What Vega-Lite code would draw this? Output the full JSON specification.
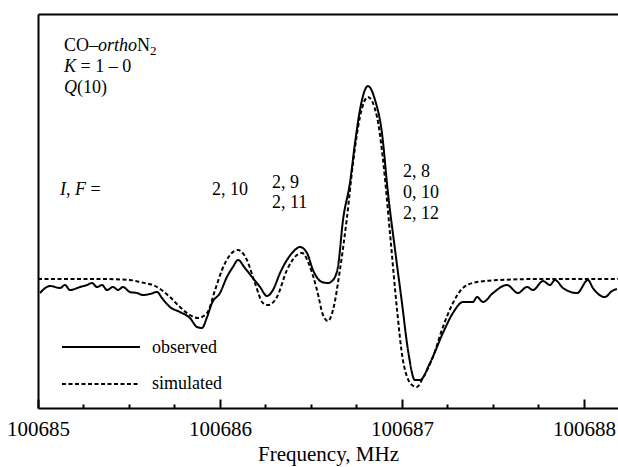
{
  "$schema": "https://vega.github.io/schema/vega-lite/v6.json",
  "width": 580,
  "height": 394,
  "autosize": "none",
  "padding": {"left": 38, "top": 14, "right": 0, "bottom": 59},
  "background": "white",
  "config": {
    "view": {"stroke": null},
    "axis": {"grid": false, "domainColor": "black", "domainWidth": 2, "tickColor": "black", "tickWidth": 2, "labelFont": "Liberation Serif, Times New Roman, DejaVu Serif, serif", "labelFontSize": 21, "labelColor": "black", "titleFont": "Liberation Serif, Times New Roman, DejaVu Serif, serif", "titleFontSize": 21, "titleFontWeight": "normal", "titleColor": "black"},
    "text": {"font": "Liberation Serif, Times New Roman, DejaVu Serif, serif", "fontSize": 18, "color": "black", "align": "left", "baseline": "alphabetic"}
  },
  "datasets": {
    "curves": [
      {"f":100685.011,"v":-0.14,"s":"observed","g":"obs"},{"f":100685.066,"v":-0.07,"s":"observed","g":"obs"},{"f":100685.121,"v":-0.09,"s":"observed","g":"obs"},{"f":100685.148,"v":-0.06,"s":"observed","g":"obs"},{"f":100685.176,"v":-0.11,"s":"observed","g":"obs"},{"f":100685.231,"v":-0.08,"s":"observed","g":"obs"},{"f":100685.269,"v":-0.06,"s":"observed","g":"obs"},{"f":100685.297,"v":-0.04,"s":"observed","g":"obs"},{"f":100685.324,"v":-0.08,"s":"observed","g":"obs"},{"f":100685.352,"v":-0.06,"s":"observed","g":"obs"},{"f":100685.379,"v":-0.11,"s":"observed","g":"obs"},{"f":100685.412,"v":-0.08,"s":"observed","g":"obs"},{"f":100685.440,"v":-0.11,"s":"observed","g":"obs"},{"f":100685.467,"v":-0.08,"s":"observed","g":"obs"},{"f":100685.505,"v":-0.13,"s":"observed","g":"obs"},{"f":100685.544,"v":-0.14,"s":"observed","g":"obs"},{"f":100685.577,"v":-0.16,"s":"observed","g":"obs"},{"f":100685.615,"v":-0.15,"s":"observed","g":"obs"},{"f":100685.654,"v":-0.13,"s":"observed","g":"obs"},{"f":100685.681,"v":-0.19,"s":"observed","g":"obs"},{"f":100685.725,"v":-0.28,"s":"observed","g":"obs"},{"f":100685.780,"v":-0.33,"s":"observed","g":"obs"},{"f":100685.835,"v":-0.39,"s":"observed","g":"obs"},{"f":100685.874,"v":-0.48,"s":"observed","g":"obs"},{"f":100685.901,"v":-0.49,"s":"observed","g":"obs"},{"f":100685.929,"v":-0.38,"s":"observed","g":"obs"},{"f":100685.956,"v":-0.24,"s":"observed","g":"obs"},{"f":100686.000,"v":-0.14,"s":"observed","g":"obs"},{"f":100686.038,"v":0.02,"s":"observed","g":"obs"},{"f":100686.071,"v":0.12,"s":"observed","g":"obs"},{"f":100686.099,"v":0.19,"s":"observed","g":"obs"},{"f":100686.137,"v":0.11,"s":"observed","g":"obs"},{"f":100686.176,"v":0.02,"s":"observed","g":"obs"},{"f":100686.220,"v":-0.08,"s":"observed","g":"obs"},{"f":100686.258,"v":-0.17,"s":"observed","g":"obs"},{"f":100686.291,"v":-0.11,"s":"observed","g":"obs"},{"f":100686.330,"v":0.06,"s":"observed","g":"obs"},{"f":100686.368,"v":0.19,"s":"observed","g":"obs"},{"f":100686.401,"v":0.27,"s":"observed","g":"obs"},{"f":100686.440,"v":0.32,"s":"observed","g":"obs"},{"f":100686.478,"v":0.26,"s":"observed","g":"obs"},{"f":100686.511,"v":0.09,"s":"observed","g":"obs"},{"f":100686.560,"v":-0.03,"s":"observed","g":"obs"},{"f":100686.593,"v":-0.04,"s":"observed","g":"obs"},{"f":100686.621,"v":-0.01,"s":"observed","g":"obs"},{"f":100686.648,"v":0.12,"s":"observed","g":"obs"},{"f":100686.676,"v":0.59,"s":"observed","g":"obs"},{"f":100686.714,"v":0.96,"s":"observed","g":"obs"},{"f":100686.742,"v":1.36,"s":"observed","g":"obs"},{"f":100686.769,"v":1.69,"s":"observed","g":"obs"},{"f":100686.813,"v":1.93,"s":"observed","g":"obs"},{"f":100686.852,"v":1.79,"s":"observed","g":"obs"},{"f":100686.890,"v":1.46,"s":"observed","g":"obs"},{"f":100686.923,"v":0.86,"s":"observed","g":"obs"},{"f":100686.962,"v":0.29,"s":"observed","g":"obs"},{"f":100687.000,"v":-0.24,"s":"observed","g":"obs"},{"f":100687.033,"v":-0.71,"s":"observed","g":"obs"},{"f":100687.071,"v":-1.01,"s":"observed","g":"obs"},{"f":100687.099,"v":-1.01,"s":"observed","g":"obs"},{"f":100687.154,"v":-0.84,"s":"observed","g":"obs"},{"f":100687.225,"v":-0.54,"s":"observed","g":"obs"},{"f":100687.280,"v":-0.34,"s":"observed","g":"obs"},{"f":100687.335,"v":-0.23,"s":"observed","g":"obs"},{"f":100687.390,"v":-0.23,"s":"observed","g":"obs"},{"f":100687.412,"v":-0.18,"s":"observed","g":"obs"},{"f":100687.445,"v":-0.23,"s":"observed","g":"obs"},{"f":100687.500,"v":-0.14,"s":"observed","g":"obs"},{"f":100687.577,"v":-0.06,"s":"observed","g":"obs"},{"f":100687.637,"v":-0.14,"s":"observed","g":"obs"},{"f":100687.687,"v":-0.08,"s":"observed","g":"obs"},{"f":100687.720,"v":-0.11,"s":"observed","g":"obs"},{"f":100687.775,"v":-0.02,"s":"observed","g":"obs"},{"f":100687.813,"v":-0.06,"s":"observed","g":"obs"},{"f":100687.841,"v":-0.01,"s":"observed","g":"obs"},{"f":100687.885,"v":-0.09,"s":"observed","g":"obs"},{"f":100687.962,"v":-0.14,"s":"observed","g":"obs"},{"f":100688.022,"v":-0.01,"s":"observed","g":"obs"},{"f":100688.049,"v":-0.09,"s":"observed","g":"obs"},{"f":100688.115,"v":-0.18,"s":"observed","g":"obs"},{"f":100688.154,"v":-0.12,"s":"observed","g":"obs"},{"f":100688.181,"v":-0.10,"s":"observed","g":"obs"},
      {"f":100685.000,"v":0,"s":"simulated","g":"sim"},{"f":100685.121,"v":0,"s":"simulated","g":"sim"},{"f":100685.341,"v":0,"s":"simulated","g":"sim"},{"f":100685.505,"v":-0.01,"s":"simulated","g":"sim"},{"f":100685.560,"v":-0.03,"s":"simulated","g":"sim"},{"f":100685.654,"v":-0.08,"s":"simulated","g":"sim"},{"f":100685.725,"v":-0.18,"s":"simulated","g":"sim"},{"f":100685.780,"v":-0.28,"s":"simulated","g":"sim"},{"f":100685.835,"v":-0.36,"s":"simulated","g":"sim"},{"f":100685.879,"v":-0.39,"s":"simulated","g":"sim"},{"f":100685.929,"v":-0.34,"s":"simulated","g":"sim"},{"f":100685.973,"v":-0.11,"s":"simulated","g":"sim"},{"f":100686.011,"v":0.09,"s":"simulated","g":"sim"},{"f":100686.055,"v":0.24,"s":"simulated","g":"sim"},{"f":100686.099,"v":0.29,"s":"simulated","g":"sim"},{"f":100686.148,"v":0.19,"s":"simulated","g":"sim"},{"f":100686.192,"v":-0.04,"s":"simulated","g":"sim"},{"f":100686.236,"v":-0.24,"s":"simulated","g":"sim"},{"f":100686.264,"v":-0.26,"s":"simulated","g":"sim"},{"f":100686.313,"v":-0.18,"s":"simulated","g":"sim"},{"f":100686.368,"v":0.09,"s":"simulated","g":"sim"},{"f":100686.423,"v":0.24,"s":"simulated","g":"sim"},{"f":100686.451,"v":0.26,"s":"simulated","g":"sim"},{"f":100686.495,"v":0.12,"s":"simulated","g":"sim"},{"f":100686.533,"v":-0.11,"s":"simulated","g":"sim"},{"f":100686.566,"v":-0.36,"s":"simulated","g":"sim"},{"f":100686.593,"v":-0.42,"s":"simulated","g":"sim"},{"f":100686.621,"v":-0.31,"s":"simulated","g":"sim"},{"f":100686.659,"v":0.09,"s":"simulated","g":"sim"},{"f":100686.698,"v":0.62,"s":"simulated","g":"sim"},{"f":100686.731,"v":1.16,"s":"simulated","g":"sim"},{"f":100686.769,"v":1.62,"s":"simulated","g":"sim"},{"f":100686.813,"v":1.82,"s":"simulated","g":"sim"},{"f":100686.863,"v":1.62,"s":"simulated","g":"sim"},{"f":100686.896,"v":1.19,"s":"simulated","g":"sim"},{"f":100686.934,"v":0.46,"s":"simulated","g":"sim"},{"f":100686.973,"v":-0.31,"s":"simulated","g":"sim"},{"f":100687.005,"v":-0.81,"s":"simulated","g":"sim"},{"f":100687.055,"v":-1.06,"s":"simulated","g":"sim"},{"f":100687.082,"v":-1.08,"s":"simulated","g":"sim"},{"f":100687.115,"v":-0.99,"s":"simulated","g":"sim"},{"f":100687.170,"v":-0.78,"s":"simulated","g":"sim"},{"f":100687.225,"v":-0.48,"s":"simulated","g":"sim"},{"f":100687.280,"v":-0.24,"s":"simulated","g":"sim"},{"f":100687.335,"v":-0.09,"s":"simulated","g":"sim"},{"f":100687.412,"v":-0.03,"s":"simulated","g":"sim"},{"f":100687.538,"v":-0.01,"s":"simulated","g":"sim"},{"f":100687.758,"v":0,"s":"simulated","g":"sim"},{"f":100688.187,"v":0,"s":"simulated","g":"sim"},
      {"f":100685.132,"v":-0.68,"s":"observed","g":"obsleg"},{"f":100685.560,"v":-0.68,"s":"observed","g":"obsleg"},
      {"f":100685.132,"v":-1.05,"s":"simulated","g":"simleg"},{"f":100685.560,"v":-1.05,"s":"simulated","g":"simleg"}
    ],
    "labels": [
      {"f":100685.143,"v":2.28,"t":"CO–","k":"n"},
      {"f":100685.330,"v":2.28,"t":"ortho","k":"i"},
      {"f":100685.544,"v":2.28,"t":"N","k":"n"},
      {"f":100685.615,"v":2.24,"t":"2","k":"s"},
      {"f":100685.143,"v":2.07,"t":"K","k":"i"},
      {"f":100685.234,"v":2.07,"t":"= 1 – 0","k":"n"},
      {"f":100685.143,"v":1.86,"t":"Q","k":"i"},
      {"f":100685.214,"v":1.86,"t":"(10)","k":"n"},
      {"f":100685.121,"v":0.84,"t":"I","k":"i"},
      {"f":100685.154,"v":0.84,"t":",","k":"n"},
      {"f":100685.203,"v":0.84,"t":"F","k":"i"},
      {"f":100685.288,"v":0.84,"t":"=","k":"n"},
      {"f":100685.956,"v":0.84,"t":"2, 10","k":"n"},
      {"f":100686.286,"v":0.91,"t":"2, 9","k":"n"},
      {"f":100686.286,"v":0.71,"t":"2, 11","k":"n"},
      {"f":100687.005,"v":1.02,"t":"2, 8","k":"n"},
      {"f":100687.005,"v":0.81,"t":"0, 10","k":"n"},
      {"f":100687.005,"v":0.60,"t":"2, 12","k":"n"},
      {"f":100685.626,"v":-0.74,"t":"observed","k":"n"},
      {"f":100685.626,"v":-1.10,"t":"simulated","k":"n"}
    ]
  },
  "resolve": {"axis": {"x": "independent", "y": "shared"}},
  "layer": [
    {
      "data": {"name": "curves"},
      "mark": {"type": "line", "color": "black", "strokeWidth": 2, "interpolate": "monotone"},
      "encoding": {
        "x": {"field": "f", "type": "quantitative", "scale": {"domain": [100685, 100688.187], "nice": false, "zero": false},
              "axis": {"orient": "bottom", "values": [100685, 100686, 100687, 100688], "format": "d", "tickSize": -9, "labelPadding": 19, "labelFlush": false, "labelOverlap": false, "title": "Frequency, MHz", "titlePadding": 4}},
        "y": {"field": "v", "type": "quantitative", "scale": {"domain": [-1.29, 2.65], "nice": false, "zero": false},
              "axis": {"orient": "left", "ticks": false, "labels": false, "title": null, "domain": true}},
        "detail": {"field": "g"},
        "strokeDash": {"field": "s", "type": "nominal", "scale": {"domain": ["observed", "simulated"], "range": [[1, 0], [4, 2.5]]}, "legend": null}
      }
    },
    {
      "data": {"name": "labels"},
      "transform": [{"filter": "datum.k === 'n'"}],
      "mark": {"type": "text"},
      "encoding": {
        "x": {"field": "f", "type": "quantitative",
              "axis": {"orient": "bottom", "values": [100685.25, 100685.5, 100685.75, 100686.25, 100686.5, 100686.75, 100687.25, 100687.5, 100687.75], "tickSize": -4, "labels": false, "domain": false, "title": null}},
        "y": {"field": "v", "type": "quantitative",
              "axis": {"orient": "left", "ticks": false, "labels": false, "title": null, "domain": true}},
        "text": {"field": "t"}
      }
    },
    {
      "data": {"name": "labels"},
      "transform": [{"filter": "datum.k === 'i'"}],
      "mark": {"type": "text", "fontStyle": "italic"},
      "encoding": {
        "x": {"field": "f", "type": "quantitative",
              "axis": {"orient": "top", "ticks": false, "labels": false, "domain": true, "title": null}},
        "y": {"field": "v", "type": "quantitative",
              "axis": {"orient": "left", "ticks": false, "labels": false, "title": null, "domain": true}},
        "text": {"field": "t"}
      }
    },
    {
      "data": {"name": "labels"},
      "transform": [{"filter": "datum.k === 's'"}],
      "mark": {"type": "text", "fontSize": 13},
      "encoding": {
        "x": {"field": "f", "type": "quantitative", "axis": null},
        "y": {"field": "v", "type": "quantitative",
              "axis": {"orient": "left", "ticks": false, "labels": false, "title": null, "domain": true}},
        "text": {"field": "t"}
      }
    }
  ]
}
